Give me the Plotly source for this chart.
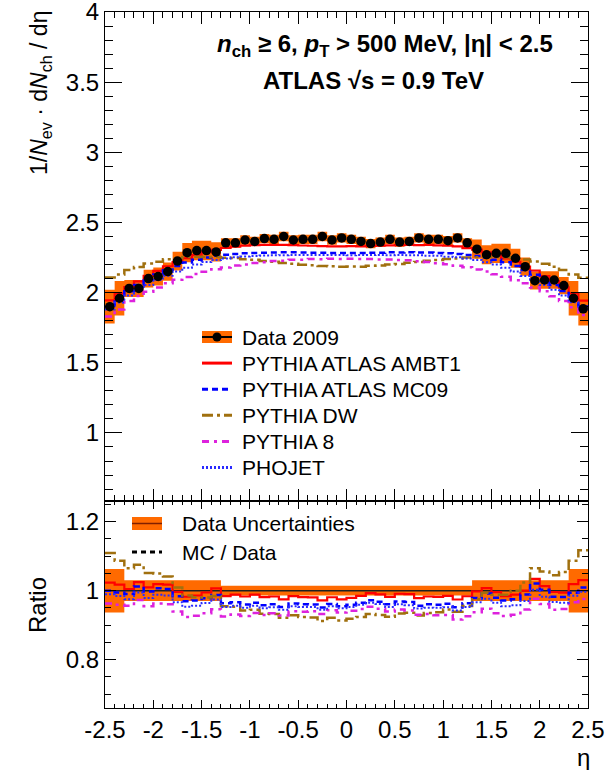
import numpy as np
import plotly.graph_objects as go

# ---------------------------------------------------------------------------
# Charged-particle pseudorapidity density, n_ch >= 6, pT > 500 MeV, sqrt(s)=0.9 TeV
# 50 bins of width 0.1 in eta, listed from eta = -2.45 to eta = +2.45
# ---------------------------------------------------------------------------
eta_edges = np.round(np.linspace(-2.5, 2.5, 51), 2)

data_2009 = [
    1.900, 1.960, 2.030, 2.030, 2.100, 2.115, 2.150, 2.225, 2.285, 2.300,
    2.300, 2.290, 2.355, 2.355, 2.375, 2.365, 2.385, 2.380, 2.400, 2.375,
    2.380, 2.380, 2.400, 2.375, 2.390, 2.380, 2.365, 2.350, 2.360, 2.380,
    2.360, 2.365, 2.390, 2.380, 2.380, 2.370, 2.390, 2.355, 2.310, 2.270,
    2.280, 2.280, 2.245, 2.185, 2.085, 2.090, 2.090, 2.050, 1.960, 1.885,
]

# relative total uncertainty of the measurement, per bin
data_rel_unc = (
    [0.063, 0.063]
    + [0.030] * 10
    + [0.014] * 26
    + [0.030] * 10
    + [0.063, 0.063]
)

pythia_ambt1 = [
    1.945, 1.995, 2.040, 2.080, 2.120, 2.155, 2.188, 2.218, 2.245, 2.268,
    2.288, 2.305, 2.318, 2.328, 2.335, 2.338, 2.340, 2.340, 2.340, 2.338,
    2.336, 2.334, 2.332, 2.330, 2.330, 2.331, 2.329, 2.333, 2.335, 2.337,
    2.339, 2.341, 2.339, 2.340, 2.337, 2.334, 2.329, 2.317, 2.306, 2.287,
    2.270, 2.244, 2.219, 2.186, 2.157, 2.118, 2.082, 2.038, 1.997, 1.943,
]

pythia_mc09 = [
    1.900, 1.950, 2.010, 2.055, 2.095, 2.130, 2.160, 2.190, 2.215, 2.235,
    2.250, 2.262, 2.270, 2.276, 2.280, 2.283, 2.285, 2.286, 2.287, 2.287,
    2.286, 2.285, 2.284, 2.283, 2.282, 2.283, 2.282, 2.285, 2.284, 2.287,
    2.286, 2.288, 2.286, 2.286, 2.283, 2.281, 2.275, 2.269, 2.261, 2.251,
    2.234, 2.216, 2.189, 2.161, 2.128, 2.096, 2.054, 2.012, 1.948, 1.902,
]

pythia_dw = [
    2.108, 2.130, 2.162, 2.183, 2.207, 2.220, 2.238, 2.245, 2.254, 2.256,
    2.254, 2.254, 2.249, 2.246, 2.238, 2.234, 2.225, 2.220, 2.211, 2.206,
    2.198, 2.195, 2.189, 2.188, 2.184, 2.186, 2.185, 2.191, 2.193, 2.200,
    2.204, 2.213, 2.218, 2.227, 2.232, 2.240, 2.244, 2.251, 2.252, 2.256,
    2.254, 2.253, 2.245, 2.237, 2.221, 2.206, 2.184, 2.161, 2.130, 2.106,
]

pythia_8 = [
    1.830, 1.880, 1.941, 1.976, 2.006, 2.037, 2.066, 2.091, 2.111, 2.133,
    2.149, 2.167, 2.179, 2.193, 2.201, 2.212, 2.217, 2.225, 2.228, 2.234,
    2.235, 2.239, 2.238, 2.241, 2.239, 2.241, 2.239, 2.240, 2.237, 2.237,
    2.232, 2.230, 2.223, 2.219, 2.210, 2.203, 2.191, 2.181, 2.165, 2.151,
    2.131, 2.113, 2.089, 2.066, 2.037, 2.009, 1.974, 1.941, 1.895, 1.840,
]

phojet = [
    1.880, 1.930, 1.980, 2.020, 2.055, 2.090, 2.120, 2.150, 2.178, 2.200,
    2.218, 2.232, 2.244, 2.252, 2.257, 2.261, 2.264, 2.266, 2.267, 2.268,
    2.268, 2.268, 2.268, 2.268, 2.268, 2.267, 2.269, 2.268, 2.269, 2.267,
    2.268, 2.266, 2.267, 2.263, 2.262, 2.256, 2.253, 2.243, 2.233, 2.217,
    2.201, 2.177, 2.151, 2.119, 2.091, 2.054, 2.021, 1.979, 1.931, 1.879,
]

x_tick_vals = [-2.5, -2.0, -1.5, -1.0, -0.5, 0.0, 0.5, 1.0, 1.5, 2.0, 2.5]
x_tick_text = ["-2.5", "-2", "-1.5", "-1", "-0.5", "0", "0.5", "1", "1.5", "2", "2.5"]
y_tick_vals = [1.0, 1.5, 2.0, 2.5, 3.0, 3.5, 4.0]
y_tick_text = ["1", "1.5", "2", "2.5", "3", "3.5", "4"]
r_tick_vals = [0.8, 1.0, 1.2]
r_tick_text = ["0.8", "1", "1.2"]

# ---------------------------------------------------------------------------
FONT = "Liberation Sans, Arial, Helvetica, sans-serif"
ORANGE = "#ff6a00"

mc_models = [
    ("PYTHIA ATLAS AMBT1", pythia_ambt1, "#ff0000", "solid", 2.2),
    ("PYTHIA ATLAS MC09", pythia_mc09, "#0000ff", "6px,4px", 2.5),
    ("PYTHIA DW", pythia_dw, "#a0700f", "11px,4px,3px,4px", 2.5),
    ("PYTHIA 8", pythia_8, "#dd22dd", "7px,5px,3px,5px", 2.5),
    ("PHOJET", phojet, "#2a2aff", "2px,2px", 2.0),
]

data = np.array(data_2009)
rel = np.array(data_rel_unc)
centers = 0.5 * (eta_edges[:-1] + eta_edges[1:])


def step(values):
    """Append the last bin value so an 'hv' line closes at the upper edge."""
    v = np.asarray(values, dtype=float)
    return np.append(v, v[-1])


fig = go.Figure()

# ---- upper panel ------------------------------------------------------------
fig.add_trace(go.Scatter(
    x=eta_edges, y=step(data * (1 - rel)), xaxis="x2", yaxis="y2",
    mode="lines", line=dict(width=0, shape="hv"), showlegend=False,
    hoverinfo="skip"))
fig.add_trace(go.Scatter(
    x=eta_edges, y=step(data * (1 + rel)), xaxis="x2", yaxis="y2",
    mode="lines", line=dict(width=0, shape="hv"), fill="tonexty",
    fillcolor=ORANGE, showlegend=False, hoverinfo="skip"))

for name, vals, color, dash, width in mc_models:
    fig.add_trace(go.Scatter(
        x=eta_edges, y=step(vals), xaxis="x2", yaxis="y2", name=name,
        mode="lines", line=dict(color=color, dash=dash, width=width, shape="hv"),
        showlegend=False))

fig.add_trace(go.Scatter(
    x=centers, y=data, xaxis="x2", yaxis="y2", mode="markers",
    marker=dict(color="black", size=9.5), name="Data 2009", showlegend=False))

# ---- ratio panel --------------------------------------------------------------
fig.add_trace(go.Scatter(
    x=eta_edges, y=step(1 - rel), mode="lines",
    line=dict(width=0, shape="hv"), showlegend=False, hoverinfo="skip"))
fig.add_trace(go.Scatter(
    x=eta_edges, y=step(1 + rel), mode="lines",
    line=dict(width=0, shape="hv"), fill="tonexty", fillcolor=ORANGE,
    showlegend=False, hoverinfo="skip"))
fig.add_trace(go.Scatter(
    x=eta_edges, y=step(data / data), mode="lines",
    line=dict(color="#202020", width=1.5, shape="hv"), showlegend=False))

for name, vals, color, dash, width in mc_models:
    fig.add_trace(go.Scatter(
        x=eta_edges, y=step(np.array(vals) / data), name=name + " / Data",
        mode="lines", line=dict(color=color, dash=dash, width=width, shape="hv"),
        showlegend=False))

# ---- axes -------------------------------------------------------------------------
L, R, T, B = 105, 588, 12, 708
W_PLOT, H_PLOT = R - L, B - T
SPLIT = 501
split_frac = (B - SPLIT) / H_PLOT


def px(x):
    return (x - L) / W_PLOT


def py(y):
    return (B - y) / H_PLOT


axis_common = dict(
    showline=True, linecolor="black", linewidth=1, mirror="ticks",
    ticks="inside", tickcolor="black", tickwidth=1, showgrid=False,
    zeroline=False, ticklabeloverflow="allow", automargin=False,
    tickfont=dict(family=FONT, size=24, color="black"),
)

fig.update_layout(
    width=616, height=770,
    margin=dict(l=L, r=616 - R, t=T, b=770 - B, autoexpand=False),
    paper_bgcolor="white", plot_bgcolor="white",
    showlegend=False,
    font=dict(family=FONT, color="black"),
    xaxis=dict(
        axis_common, domain=[0, 1], anchor="y", range=[-2.5, 2.5],
        tickmode="array", tickvals=x_tick_vals, ticktext=x_tick_text,
        ticklen=8,
        minor=dict(tickmode="linear", tick0=-2.5, dtick=0.1, ticklen=4,
                   ticks="inside", tickcolor="black"),
    ),
    yaxis=dict(
        axis_common, domain=[0, split_frac], anchor="x", range=[0.66, 1.26],
        tickmode="array", tickvals=r_tick_vals, ticktext=r_tick_text,
        ticklen=11,
        minor=dict(tickmode="linear", tick0=0.0, dtick=0.05, ticklen=6,
                   ticks="inside", tickcolor="black"),
    ),
    xaxis2=dict(
        axis_common, domain=[0, 1], anchor="y2", range=[-2.5, 2.5],
        matches="x", showticklabels=False,
        tickmode="array", tickvals=x_tick_vals, ticklen=12,
        minor=dict(tickmode="linear", tick0=-2.5, dtick=0.1, ticklen=6,
                   ticks="inside", tickcolor="black"),
    ),
    yaxis2=dict(
        axis_common, domain=[split_frac, 1], anchor="x2", range=[0.515, 4.0],
        tickmode="array", tickvals=y_tick_vals, ticktext=y_tick_text,
        ticklen=17,
        minor=dict(tickmode="linear", tick0=0.0, dtick=0.1, ticklen=8,
                   ticks="inside", tickcolor="black"),
    ),
)

# ---- text -----------------------------------------------------------------------
annotations = [
    dict(x=px(385), y=py(46),
         text="<b><i>n</i><sub>ch</sub> ≥ 6, <i>p</i><sub>T</sub> &gt; 500 MeV, |η| &lt; 2.5</b>",
         font=dict(size=24)),
    dict(x=px(373), y=py(80), text="<b>ATLAS √s = 0.9 TeV</b>",
         font=dict(size=24)),
    dict(x=px(40), y=py(93), textangle=-90,
         text="1/<i>N</i><sub>ev</sub> · d<i>N</i><sub>ch</sub> / dη",
         font=dict(size=23)),
    dict(x=px(37), y=py(605), textangle=-90, text="Ratio", font=dict(size=24)),
    dict(x=px(583), y=py(757), text="η", font=dict(size=24)),
]

shapes = []

# upper legend
legend_rows = ["Data 2009"] + [m[0] for m in mc_models]
row_y = [337 + 26.1 * i for i in range(len(legend_rows))]
sw_x0, sw_x1, txt_x = 202, 232, 240

shapes.append(dict(type="rect", xref="paper", yref="paper",
                   x0=px(sw_x0), x1=px(sw_x1), y0=py(row_y[0] - 6), y1=py(row_y[0] + 6),
                   fillcolor=ORANGE, line=dict(width=0)))
shapes.append(dict(type="line", xref="paper", yref="paper",
                   x0=px(sw_x0), x1=px(sw_x1), y0=py(row_y[0]), y1=py(row_y[0]),
                   line=dict(color="black", width=2)))
shapes.append(dict(type="circle", xref="paper", yref="paper",
                   x0=px(217 - 4.5), x1=px(217 + 4.5),
                   y0=py(row_y[0] + 4.5), y1=py(row_y[0] - 4.5),
                   fillcolor="black", line=dict(width=0)))
for (name, vals, color, dash, width), yy in zip(mc_models, row_y[1:]):
    shapes.append(dict(type="line", xref="paper", yref="paper",
                       x0=px(sw_x0), x1=px(sw_x1), y0=py(yy), y1=py(yy),
                       line=dict(color=color, width=3, dash=dash)))
for label, yy in zip(legend_rows, row_y):
    annotations.append(dict(x=px(txt_x), y=py(yy), text=label, xanchor="left",
                            font=dict(size=21)))

# ratio legend
shapes.append(dict(type="rect", xref="paper", yref="paper",
                   x0=px(132), x1=px(162), y0=py(530), y1=py(517),
                   fillcolor=ORANGE, line=dict(width=0)))
shapes.append(dict(type="line", xref="paper", yref="paper",
                   x0=px(132), x1=px(162), y0=py(523.5), y1=py(523.5),
                   line=dict(color="#802000", width=1.5)))
shapes.append(dict(type="line", xref="paper", yref="paper",
                   x0=px(132), x1=px(162), y0=py(552), y1=py(552),
                   line=dict(color="black", width=3, dash="5px,4px")))
annotations.append(dict(x=px(180), y=py(523), text="Data Uncertainties",
                        xanchor="left", font=dict(size=21)))
annotations.append(dict(x=px(180), y=py(552), text="MC / Data",
                        xanchor="left", font=dict(size=21)))

for a in annotations:
    a.setdefault("xref", "paper")
    a.setdefault("yref", "paper")
    a.setdefault("xanchor", "center")
    a.setdefault("yanchor", "middle")
    a.setdefault("showarrow", False)
    a["font"] = dict(family=FONT, color="black", **a.get("font", {}))

fig.update_layout(annotations=annotations, shapes=shapes)

fig.write_html("out.html")
